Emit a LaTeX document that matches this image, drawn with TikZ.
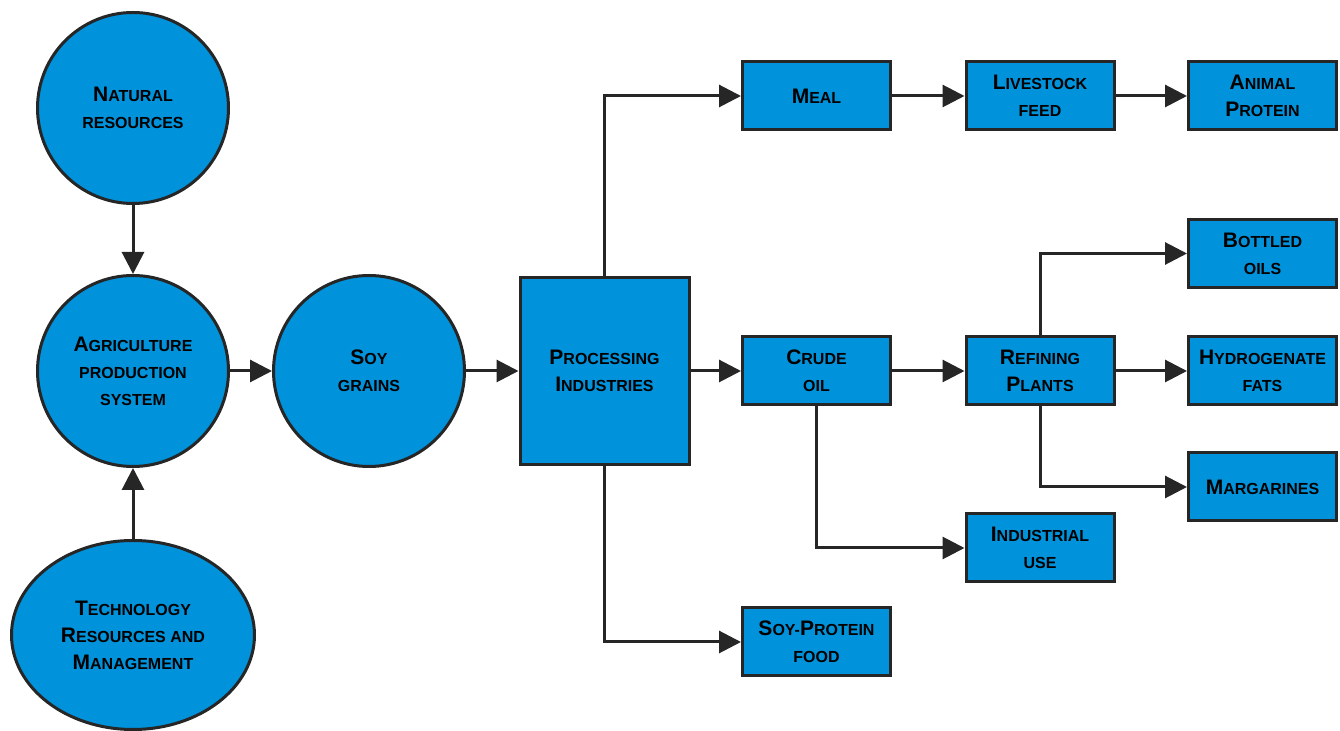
\documentclass[tikz,border=0pt]{standalone}
\usepackage{fontspec}
\setmainfont{Liberation Sans}
\usetikzlibrary{arrows.meta,shapes.geometric}
\definecolor{soyblue}{RGB}{0,146,218}
\newcommand\capbig[1]{{\fontsize{10.5}{13.5}\selectfont #1}}
\newcommand\capsmall[1]{{\fontsize{8}{13.5}\selectfont #1}}
\tikzset{
  bubble/.style={circle, draw=black!85, fill=soyblue, line width=1.5pt, minimum size=95.5pt, inner sep=0pt, align=center, font=\bfseries\fontsize{8}{13.5}\selectfont},
  block/.style={rectangle, draw=black!85, fill=soyblue, line width=1.5pt, minimum width=74pt, minimum height=34pt, inner sep=0pt, align=center, font=\bfseries\fontsize{8}{13.5}\selectfont},
  arr/.style={draw=black!85, line width=1.5pt, -{Triangle[length=11pt,width=11pt]}}
}
\begin{document}
\begin{tikzpicture}[x=0.5pt,y=0.5pt]
  \useasboundingbox (0,0) rectangle (1340,-731);
  % left column
  \node[bubble] (nat) at (133,-108) {\capbig{N}\capsmall{ATURAL}\\\capsmall{RESOURCES}};
  \node[bubble] (agri) at (133,-371) {\capbig{A}\capsmall{GRICULTURE}\\\capsmall{PRODUCTION}\\\capsmall{SYSTEM}};
  \node[bubble, ellipse, minimum width=121.5pt, minimum height=94.5pt] (tech) at (133,-635)
    {\capbig{T}\capsmall{ECHNOLOGY}\\\capbig{R}\capsmall{ESOURCES AND}\\\capbig{M}\capsmall{ANAGEMENT}};
  \node[bubble] (soy) at (369,-371) {\capbig{S}\capsmall{OY}\\\capsmall{GRAINS}};
  \node[block, minimum width=84.5pt, minimum height=93.5pt] (proc) at (604.5,-371)
    {\capbig{P}\capsmall{ROCESSING}\\\capbig{I}\capsmall{NDUSTRIES}};
  % products
  \node[block] (meal) at (816.5,-96) {\capbig{M}\capsmall{EAL}};
  \node[block] (crude) at (816.5,-371) {\capbig{C}\capsmall{RUDE}\\\capsmall{OIL}};
  \node[block] (food) at (816.5,-642) {\capbig{S}\capsmall{OY-}\capbig{P}\capsmall{ROTEIN}\\\capsmall{FOOD}};
  \node[block] (feed) at (1040,-96) {\capbig{L}\capsmall{IVESTOCK}\\\capsmall{FEED}};
  \node[block] (refin) at (1040,-371) {\capbig{R}\capsmall{EFINING}\\\capbig{P}\capsmall{LANTS}};
  \node[block] (indus) at (1040,-548) {\capbig{I}\capsmall{NDUSTRIAL}\\\capsmall{USE}};
  \node[block] (animal) at (1262.5,-96) {\capbig{A}\capsmall{NIMAL}\\\capbig{P}\capsmall{ROTEIN}};
  \node[block] (bottle) at (1262.5,-253.5) {\capbig{B}\capsmall{OTTLED}\\\capsmall{OILS}};
  \node[block] (hydro) at (1262.5,-371) {\capbig{H}\capsmall{YDROGENATE}\\\capsmall{FATS}};
  \node[block] (marg) at (1262.5,-487) {\capbig{M}\capsmall{ARGARINES}};
  % connectors
  \draw[arr] (nat) -- (agri);
  \draw[arr] (tech) -- (agri);
  \draw[arr] (agri) -- (soy);
  \draw[arr] (soy) -- (proc);
  \draw[arr] (proc.north) |- (meal.west);
  \draw[arr] (proc) -- (crude);
  \draw[arr] (proc.south) |- (food.west);
  \draw[arr] (meal) -- (feed);
  \draw[arr] (feed) -- (animal);
  \draw[arr] (crude) -- (refin);
  \draw[arr] (crude.south) |- (indus.west);
  \draw[arr] (refin.north) |- (bottle.west);
  \draw[arr] (refin) -- (hydro);
  \draw[arr] (refin.south) |- (marg.west);
\end{tikzpicture}
\end{document}
